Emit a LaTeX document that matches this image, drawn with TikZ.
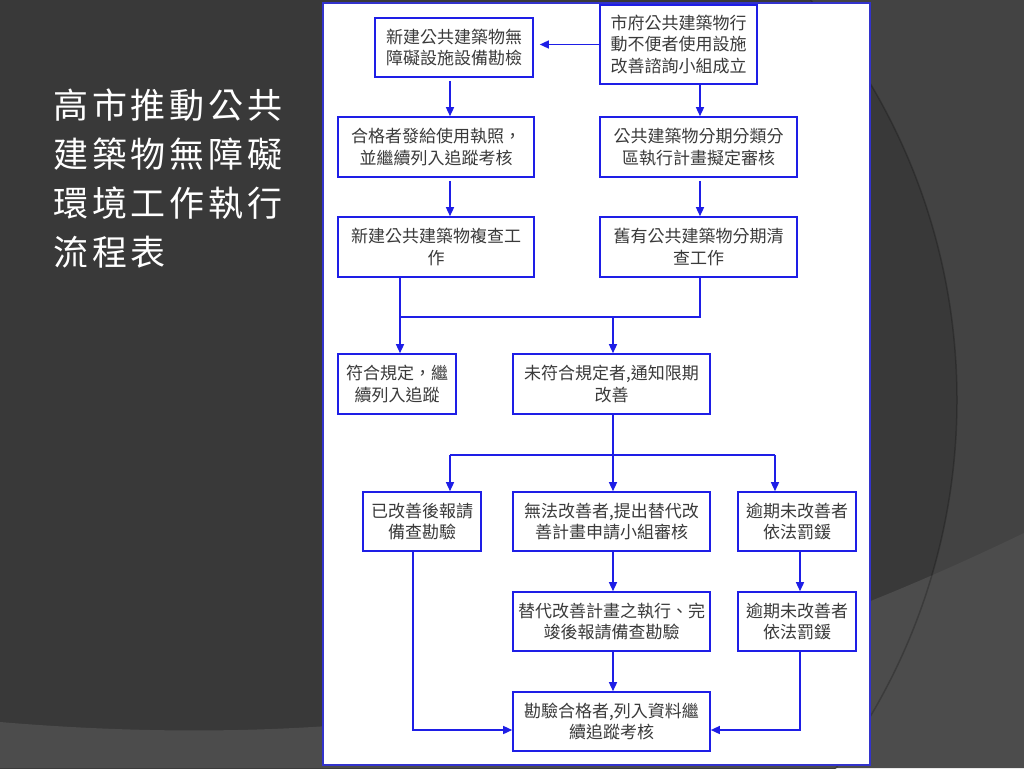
\documentclass[tikz,border=0pt]{standalone}
\usepackage{fontspec}
\newfontfamily\cjk{Noto Sans CJK TC}
\newfontfamily\cjktitle[LetterSpace=11]{Noto Sans CJK TC}
\usetikzlibrary{arrows.meta}
\definecolor{bgdark}{HTML}{393939}
\definecolor{bgright}{HTML}{434343}
\definecolor{bgband}{HTML}{4C4C4C}
\definecolor{fblue}{HTML}{1E1EE6}
\definecolor{pblue}{HTML}{3333CC}
\definecolor{txt}{HTML}{3A3A3A}
\begin{document}
\begin{tikzpicture}[x=1pt,y=-1pt,
  box/.style={draw=fblue, line width=1.6pt, fill=white, text=txt,
    font=\cjk\fontsize{17}{21.5}\selectfont, align=center, inner sep=0pt},
  conn/.style={draw=fblue, line width=1.4pt},
  arr/.style={conn, -{Triangle[length=9pt,width=8pt]}},
  titletext/.style={text=white, font=\cjktitle\fontsize{35}{49}\selectfont, inner sep=0pt, anchor=base west}]
\useasboundingbox (0,0) rectangle (1024,768);
\clip (0,0) rectangle (1024,768);
% background
\fill[bgright] (0,0) rectangle (1024,768);
\fill[bgdark] (337,400) circle[radius=620];
\fill[bgband] (0,722) .. controls (450,760) and (750,665) .. (1024,533) -- (1024,768) -- (0,768) -- cycle;
\draw[black, opacity=0.22, line width=1.5pt] (337,400) circle[radius=620];
% title
\node[titletext] (T1) at (53,118) {高市推動公共};
\node[titletext] (T2) at (53,167) {建築物無障礙};
\node[titletext] (T3) at (53,216) {環境工作執行};
\node[titletext] (T4) at (53,265) {流程表};
% panel
\draw[draw=pblue, line width=1.5pt, fill=white] (323,3) rectangle (870,765);
% boxes
\node[box, minimum width=158pt, minimum height=59pt] (B1) at (454,47.5) {新建公共建築物無\\障礙設施設備勘檢};
\node[box, minimum width=157pt, minimum height=79pt] (B2) at (678.5,44.5) {市府公共建築物行\\動不便者使用設施\\改善諮詢小組成立};
\node[box, minimum width=196pt, minimum height=60pt] (B3) at (436,147) {合格者發給使用執照，\\並繼續列入追蹤考核};
\node[box, minimum width=197pt, minimum height=60pt] (B4) at (698.5,147) {公共建築物分期分類分\\區執行計畫擬定審核};
\node[box, minimum width=196pt, minimum height=60pt] (B5) at (436,247) {新建公共建築物複查工\\作};
\node[box, minimum width=197pt, minimum height=60pt] (B6) at (698.5,247) {舊有公共建築物分期清\\查工作};
\node[box, minimum width=118pt, minimum height=60pt] (B7) at (397,384) {符合規定，繼\\續列入追蹤};
\node[box, minimum width=197pt, minimum height=60pt] (B8) at (611.5,384) {未符合規定者,通知限期\\改善};
\node[box, minimum width=118pt, minimum height=59pt] (B9) at (422,521.5) {已改善後報請\\備查勘驗};
\node[box, minimum width=197pt, minimum height=59pt] (B10) at (611.5,521.5) {無法改善者,提出替代改\\善計畫申請小組審核};
\node[box, minimum width=118pt, minimum height=59pt] (B11) at (797,521.5) {逾期未改善者\\依法罰鍰};
\node[box, minimum width=197pt, minimum height=59pt] (B12) at (611.5,621.5) {替代改善計畫之執行、完\\竣後報請備查勘驗};
\node[box, minimum width=118pt, minimum height=59pt] (B13) at (797,621.5) {逾期未改善者\\依法罰鍰};
\node[box, minimum width=197pt, minimum height=59pt] (B14) at (611.5,721.5) {勘驗合格者,列入資料繼\\續追蹤考核};
% column coordinates
\coordinate (xA) at (450,0);
\coordinate (xB) at (700,0);
\coordinate (xD) at (613,0);
\coordinate (xG) at (800,0);
\coordinate (J1) at (400,317);
\coordinate (J2) at (700,317);
\coordinate (J3) at (613,317);
\coordinate (K1) at (450,455);
\coordinate (K2) at (613,455);
\coordinate (K3) at (775,455);
\coordinate (L1) at (413,730);
\coordinate (L2) at (800,730);
% connectors
\draw[arr, shorten >=6pt] (B2.west) -- (B2.west -| B1.east);
\draw[arr, shorten <=3pt] (B1.south -| xA) -- (B3.north -| xA);
\draw[arr, shorten <=3pt] (B3.south -| xA) -- (B5.north -| xA);
\draw[arr] (B2.south -| xB) -- (B4.north -| xB);
\draw[arr, shorten <=3pt] (B4.south -| xB) -- (B6.north -| xB);
\draw[conn] (B5.south -| J1) -- (J1) -- (J2) -- (B6.south -| J2);
\draw[arr] (J1) -- (B7.north -| J1);
\draw[arr] (J3) -- (B8.north -| J3);
\draw[conn] (B8.south -| K2) -- (K2);
\draw[conn] (K1) -- (K3);
\draw[arr] (K1) -- (B9.north -| K1);
\draw[arr] (K2) -- (B10.north -| K2);
\draw[arr] (K3) -- (B11.north -| K3);
\draw[arr] (B10.south -| xD) -- (B12.north -| xD);
\draw[arr] (B12.south -| xD) -- (B14.north -| xD);
\draw[arr] (B11.south -| xG) -- (B13.north -| xG);
\draw[arr] (B9.south -| L1) -- (L1) -- (L1 -| B14.west);
\draw[arr] (B13.south -| L2) -- (L2) -- (L2 -| B14.east);
\end{tikzpicture}
\end{document}
